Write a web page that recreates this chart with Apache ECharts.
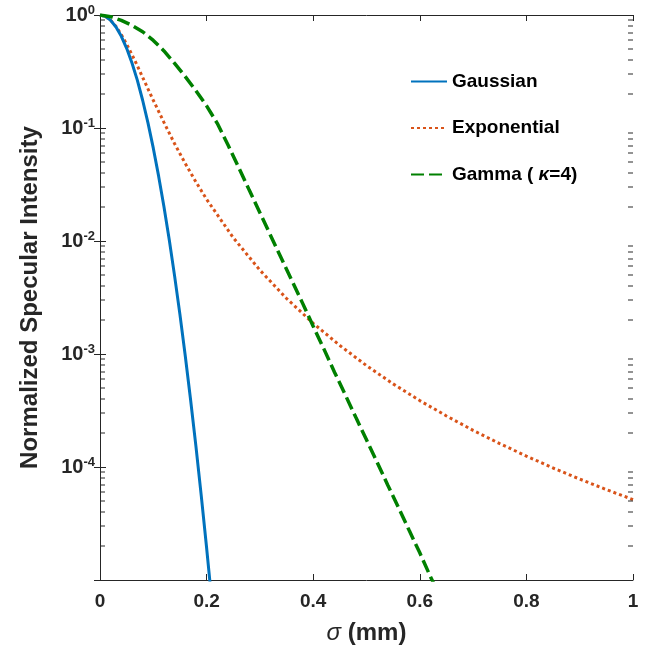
<!DOCTYPE html>
<html>
<head>
<meta charset="utf-8">
<script src="https://cdn.jsdelivr.net/npm/echarts@6/dist/echarts.min.js"></script>
<style>html,body{margin:0;padding:0;background:#fff}#c{width:650px;height:650px}</style>
</head>
<body>
<div id="c"></div>
<script>
// ---- data ----
const sigmaGauss = [0,0.01,0.02,0.03,0.04,0.05,0.06,0.07,0.08,0.09,0.10,0.11,0.12,0.13,0.14,0.15,0.16,0.17,0.18,0.19,0.20,0.21];
const gaussian   = [1,0.973,0.897,0.783,0.648,0.507,0.376,0.265,0.176,0.111,0.0663,0.0375,0.0201,0.0102,0.00489,0.00223,0.000961,0.000392,0.000152,0.0000556,0.0000193,0.00000635];

const sigmaExp = [0,0.01,0.02,0.03,0.04,0.05,0.06,0.07,0.08,0.09,0.10,0.12,0.14,0.16,0.18,0.20,0.25,0.30,0.35,0.40,0.45,0.50,0.55,0.60,0.65,0.70,0.75,0.80,0.85,0.90,0.95,1.00];
const exponential = [1,0.973,0.898,0.793,0.670,0.551,0.446,0.356,0.281,0.222,0.176,0.112,0.0725,0.0485,0.0333,0.0234,0.0107,0.00552,0.00310,0.00187,0.00119,0.000789,0.000544,0.000387,0.000283,0.000211,0.000161,0.000125,0.000098,0.0000782,0.0000631,0.0000515];

const sigmaGamma = [0,0.02,0.04,0.06,0.08,0.10,0.12,0.14,0.16,0.18,0.20,0.22,0.24,0.26,0.28,0.30,0.32,0.34,0.36,0.38,0.40,0.42,0.44,0.46,0.48,0.50,0.52,0.54,0.56,0.58,0.60,0.62,0.64];
const gamma = [1,0.966,0.895,0.809,0.711,0.596,0.481,0.373,0.285,0.214,0.157,0.110,0.0711,0.045,0.0282,0.0178,0.0112,0.00708,0.00447,0.00282,0.00176,0.00111,0.00069,0.000437,0.000275,0.000174,0.00011,0.000069,0.0000437,0.0000275,0.0000174,0.0000107,0.0000068];

const seriesNames = ['Gaussian','Exponential','Gamma (κ=4)'];
const xTicks = [0,0.2,0.4,0.6,0.8,1];
const yMin = 1e-5, yMax = 1;

// minor tick values (2..9 x 10^k)
const minorVals = [];
for (let k = -5; k < 0; k++) for (let m = 2; m <= 9; m++) minorVals.push(m * Math.pow(10, k));

const zip = (xs, ys) => xs.map((x, i) => [x, ys[i]]);
const FONT = '"Liberation Sans", Arial, Helvetica, sans-serif';
const TXT = '#262626';

const chart = echarts.init(document.getElementById('c'), null, {renderer: 'canvas'});

const axisLineStyle = {show: true, lineStyle: {color: TXT, width: 1}};

chart.setOption({
  animation: false,
  backgroundColor: '#fff',
  grid: {left: 100, right: 17, top: 15, bottom: 68, containLabel: false},
  legend: {
    data: seriesNames,
    orient: 'vertical',
    left: 405, top: 67,
    itemWidth: 36, itemHeight: 14, itemGap: 27.5, textGap: 12,
    itemStyle: {opacity: 0},
    textStyle: {fontFamily: FONT, fontSize: 19, fontWeight: 'bold', color: '#000',
      rich: {i: {fontFamily: FONT, fontSize: 19, fontWeight: 'bold', fontStyle: 'italic', color: '#000'}}},
    formatter: n => n === 'Gamma (κ=4)' ? 'Gamma ( {i|κ}=4)' : n
  },
  xAxis: [{
    type: 'value', min: 0, max: 1, interval: 0.2, position: 'bottom',
    name: '{i|σ} (mm)', nameLocation: 'middle', nameGap: 41,
    nameTextStyle: {fontFamily: FONT, fontSize: 24, fontWeight: 'bold', color: TXT,
      rich: {i: {fontFamily: FONT, fontSize: 24, fontStyle: 'italic', fontWeight: 'normal', color: TXT}}},
    axisLine: axisLineStyle,
    axisTick: {show: true, inside: true, length: 6, lineStyle: {color: TXT}},
    axisLabel: {fontFamily: FONT, fontSize: 19, fontWeight: 'bold', color: TXT, margin: 12},
    splitLine: {show: false}
  }, {
    type: 'value', min: 0, max: 1, interval: 0.2, position: 'top',
    axisLine: axisLineStyle,
    axisTick: {show: true, inside: true, length: 6, lineStyle: {color: TXT}},
    axisLabel: {show: false}, splitLine: {show: false}
  }],
  yAxis: [{
    type: 'log', logBase: 10, min: yMin, max: yMax, position: 'left',
    name: 'Normalized Specular Intensity', nameLocation: 'middle', nameGap: 58,
    nameTextStyle: {fontFamily: FONT, fontSize: 24, fontWeight: 'bold', color: TXT},
    axisLine: axisLineStyle,
    axisTick: {show: true, inside: true, length: 6, lineStyle: {color: TXT}},
    axisLabel: {
      margin: 5,
      formatter: v => { const e = Math.round(Math.log10(v)); return e === -5 ? '' : '{b|10}{s|' + e + '}'; },
      rich: {
        b: {fontFamily: FONT, fontSize: 20, fontWeight: 'bold', color: TXT},
        s: {fontFamily: FONT, fontSize: 13, fontWeight: 'bold', color: TXT, verticalAlign: 'bottom', padding: [0, 0, 10, 0]}
      }
    },
    splitLine: {show: false}
  }, {
    type: 'log', logBase: 10, min: yMin, max: yMax, position: 'right',
    axisLine: axisLineStyle,
    axisTick: {show: true, inside: true, length: 6, lineStyle: {color: TXT}},
    axisLabel: {show: false}, splitLine: {show: false}
  }],
  series: [
    {
      name: seriesNames[0], type: 'line', data: zip(sigmaGauss, gaussian),
      showSymbol: false, symbol: 'none', smooth: false, clip: true,
      lineStyle: {color: '#0072BD', width: 3, type: 'solid'}, itemStyle: {color: '#0072BD'}, z: 4
    },
    {
      name: seriesNames[1], type: 'line', data: zip(sigmaExp, exponential),
      showSymbol: false, symbol: 'none', smooth: false, clip: true,
      lineStyle: {color: '#D95319', width: 3, type: [3, 3]}, itemStyle: {color: '#D95319'}, z: 3
    },
    {
      name: seriesNames[2], type: 'line', data: zip(sigmaGamma, gamma),
      showSymbol: false, symbol: 'none', smooth: false, clip: true,
      lineStyle: {color: '#008000', width: 3.5, type: [13, 5]}, itemStyle: {color: '#008000'}, z: 5
    }
  ]
});

// minor ticks on both vertical edges, positioned through the axis scale
const xl = chart.convertToPixel({xAxisIndex: 0}, 0);
const xr = chart.convertToPixel({xAxisIndex: 0}, 1);
const ticks = [];
minorVals.forEach(v => {
  const y = Math.round(chart.convertToPixel({yAxisIndex: 0}, v)) - 0.5;
  ticks.push({type: 'rect', shape: {x: xl, y: y, width: 5, height: 1}, style: {fill: TXT}, z: 100, silent: true});
  ticks.push({type: 'rect', shape: {x: xr - 5, y: y, width: 5, height: 1}, style: {fill: TXT}, z: 100, silent: true});
});
chart.setOption({graphic: {elements: ticks}});
</script>
</body>
</html>
